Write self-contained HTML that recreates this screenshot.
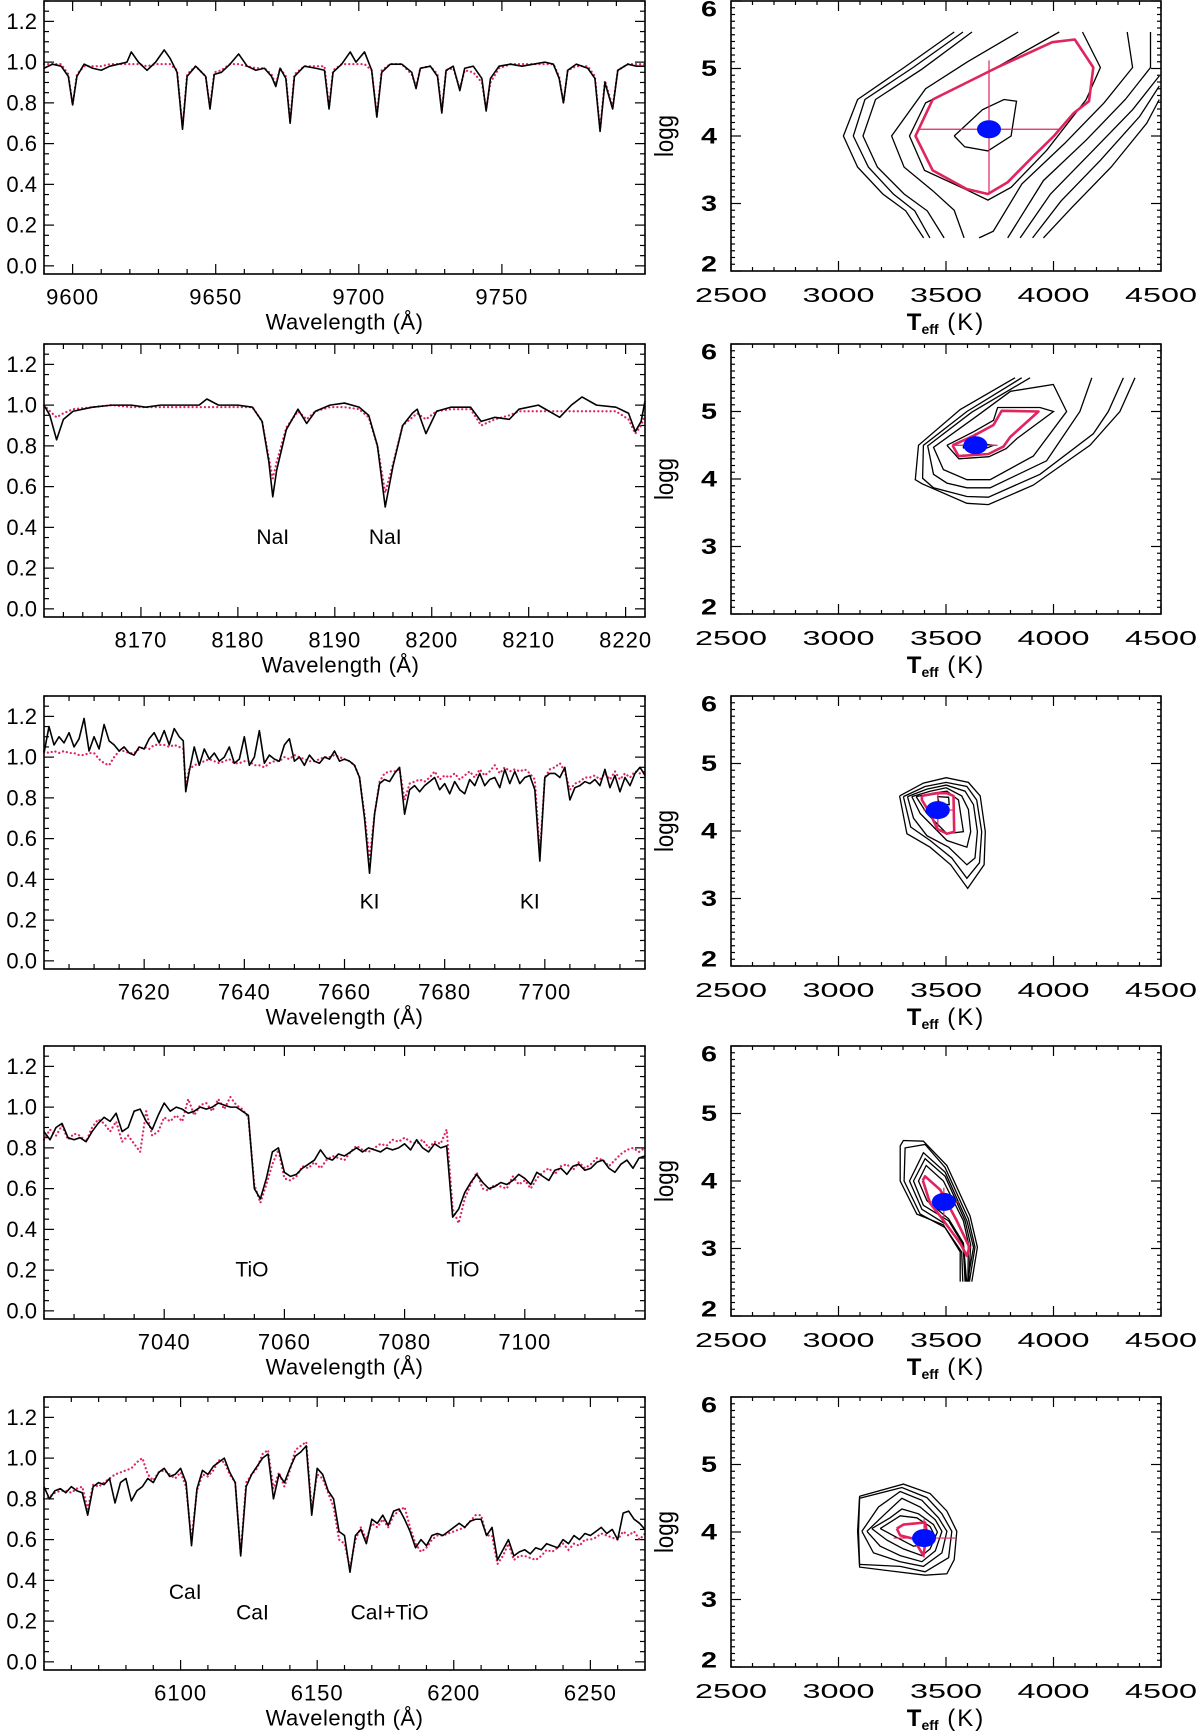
<!DOCTYPE html>
<html><head><meta charset="utf-8"><style>
html,body{margin:0;padding:0;background:#fff;}
svg{display:block;}
text{font-family:"Liberation Sans",sans-serif;fill:#000;}
</style></head><body>
<svg id="fig" width="1200" height="1732" viewBox="0 0 1200 1732" xmlns="http://www.w3.org/2000/svg"></svg>
<script>
// ---------------- Spectrum data ----------------
const wl1=[9590,9593,9596,9598.5,9600,9601.5,9604,9607,9610,9613,
9616,9619,9620.5,9623,9626,9629,9632,9634,9636.5,9638.4,
9640,9643,9646.5,9648,9649.5,9652,9655,9658,9661,9664,
9667,9669.5,9671,9672.5,9674.5,9676,9677.5,9681,9685,9688,
9689.6,9691,9694,9697,9699,9702,9704.5,9706.3,9708,9711,
9715,9718.5,9720,9721.5,9725,9727.5,9729,9730.5,9733,9735.3,
9737,9740,9743,9744.5,9746,9749,9753,9757,9761,9765,
9768,9770,9771.5,9773,9776,9780,9782.5,9784.3,9786,9788.7,
9790.5,9794,9797,9800];
const obs1=[.97,.99,.98,.93,.79,.93,.99,.97,.96,.98,
.99,1.0,1.05,1.0,.96,1.0,1.06,1.02,.95,.67,
.93,.98,.93,.77,.94,.95,.99,1.04,.98,.96,
.97,.93,.88,.97,.92,.70,.93,.98,.97,.96,
.77,.95,.99,1.05,1.0,1.05,.96,.73,.95,.99,
.99,.95,.87,.97,.98,.93,.75,.96,.98,.86,
.97,.98,.92,.76,.92,.98,.99,.98,.99,1.0,
.99,.92,.80,.96,.99,.97,.92,.66,.90,.77,
.96,.99,.98,.98];
const mod1=[.99,.99,.99,.94,.79,.94,.98,.98,.98,.99,
.99,.99,.99,.99,.98,.99,.99,.99,.96,.68,
.94,.98,.93,.78,.95,.96,.99,.99,.98,.97,
.97,.94,.89,.97,.93,.71,.94,.98,.98,.98,
.78,.96,.99,.99,.99,.99,.96,.74,.96,.99,
.99,.94,.88,.97,.98,.94,.76,.96,.97,.87,
.96,.95,.90,.77,.90,.97,.99,.99,.99,.99,
.99,.93,.80,.96,.98,.98,.93,.67,.91,.78,
.96,.99,.99,.99];

const wl2=[8160,8160.6,8161.3,8162,8163,8165,8167,8169,8170.5,8172,
8174,8176,8176.8,8178,8180,8181.5,8182.5,8183.2,8183.6,8184,
8185,8186.2,8187.1,8188,8189.5,8191,8192.5,8193.5,8194.4,8195.2,
8196,8197,8198,8198.5,8199.4,8200.5,8202,8204,8205.1,8206.5,
8208,8209,8211,8213.2,8214.4,8215.5,8217,8219,8220.3,8221,
8221.6,8222];
const obs2=[1.0,.95,.83,.93,.97,.99,1.0,1.0,.99,1.0,
1.0,1.0,1.03,1.0,1.0,.99,.92,.72,.55,.68,
.88,.98,.91,.97,1.0,1.01,.99,.95,.80,.50,
.70,.90,.96,.98,.86,.97,.99,.99,.92,.94,
.93,.98,1.0,.94,1.0,1.04,1.0,.99,.96,.87,
.92,1.02];
const mod2=[1.0,.97,.94,.96,.98,.99,1.0,.99,.99,.99,
.99,.99,.99,.99,.99,.99,.92,.74,.64,.72,
.89,.97,.93,.97,.99,.99,.98,.94,.80,.57,
.71,.90,.94,.96,.93,.97,.98,.98,.90,.93,
.95,.97,.97,.97,.97,.97,.97,.97,.93,.86,
.90,.95];

const wl3=[7600,7601,7602,7603,7604,7605,7606,7607,7608,7609,
7610,7611,7612,7613,7614,7615,7616,7617,7618,7619,
7620,7621,7622,7623,7624,7625,7626,7627,7627.8,7628.3,
7629,7630,7631,7632,7633,7634,7635,7636,7637,7638,
7639,7640,7641,7642,7643,7644,7645,7646,7647,7648,
7649,7650,7651,7652,7653,7654,7655,7656,7657,7658,
7659,7660,7661,7662,7663,7664,7665,7666,7667,7668,
7669,7670,7671,7672,7673,7674,7675,7676,7677,7678,
7679,7680,7681,7682,7683,7684,7685,7686,7687,7688,
7689,7690,7691,7692,7693,7694,7695,7696,7697,7698,
7699,7700,7701,7702,7703,7704,7705,7706,7707,7708,
7709,7710,7711,7712,7713,7714,7715,7716,7717,7718,
7719,7720];
const obs3=[1.02,1.15,1.06,1.10,1.07,1.12,1.05,1.09,1.19,1.03,
1.10,1.04,1.16,1.08,1.06,1.03,1.05,1.02,1.01,1.05,
1.04,1.09,1.12,1.07,1.13,1.06,1.14,1.10,1.08,.83,
.93,1.05,.96,1.04,.99,1.02,.98,1.00,1.05,.97,
.99,1.10,.96,1.00,1.13,.97,1.01,.99,.98,1.06,
1.09,.98,1.00,.96,1.01,.98,.97,1.00,.99,1.03,
.98,.99,.98,.96,.90,.70,.43,.72,.87,.89,
.88,.92,.95,.72,.84,.86,.83,.86,.88,.90,
.84,.87,.82,.88,.84,.82,.89,.86,.92,.86,
.89,.90,.85,.94,.87,.93,.87,.90,.91,.84,
.49,.90,.92,.92,.90,.95,.79,.85,.86,.88,
.87,.89,.86,.94,.85,.91,.83,.90,.86,.92,
.95,.91];
const mod3=[1.03,1.02,1.03,1.02,1.03,1.02,1.02,1.01,1.01,1.02,
1.02,.99,.97,.96,1.0,1.03,1.03,1.02,1.02,1.04,
1.05,1.04,1.06,1.06,1.06,1.05,1.06,1.05,1.04,.86,
.94,.96,.97,.98,.99,.98,.97,.98,.99,.97,
.97,.98,.98,.96,.96,.95,.97,.98,.98,1.0,
.99,1.01,1.0,.99,.98,.98,.99,1.0,1.0,1.01,
1.0,.99,.98,.96,.90,.72,.50,.72,.88,.92,
.93,.93,.94,.79,.87,.88,.89,.88,.90,.93,
.89,.91,.90,.92,.89,.91,.93,.90,.94,.91,
.93,.96,.92,.95,.93,.94,.93,.94,.92,.89,
.53,.90,.94,.95,.97,.93,.84,.87,.88,.90,
.90,.91,.89,.92,.89,.93,.89,.92,.90,.93,
.92,.93];

const wl4Start=7020, wl4Step=1;
const obs4=[.88,.84,.90,.92,.85,.84,.85,.83,.88,.92,
.95,.93,.97,.88,.90,.98,.99,.93,.89,.96,
1.02,.98,1.0,.99,.97,.98,1.0,.99,1.0,1.02,
1.01,1.0,1.0,.98,.96,.60,.55,.65,.78,.80,
.68,.66,.67,.70,.72,.74,.79,.75,.74,.77,
.76,.78,.80,.78,.80,.79,.78,.80,.79,.80,
.82,.79,.84,.80,.78,.82,.80,.81,.46,.50,
.58,.63,.67,.63,.60,.61,.63,.62,.64,.67,
.65,.62,.68,.66,.64,.69,.70,.67,.71,.72,
.69,.70,.73,.74,.70,.68,.72,.74,.70,.75,
.76];
const mod4=[.84,.89,.86,.91,.84,.87,.86,.83,.90,.94,
.92,.88,.93,.83,.86,.82,.78,.98,.86,.88,
.95,.93,.96,.93,1.04,.96,1.01,1.02,.98,1.04,
.99,1.05,1.01,.99,.95,.62,.53,.62,.72,.79,
.65,.64,.66,.71,.70,.73,.70,.74,.76,.75,
.74,.78,.81,.79,.78,.80,.82,.81,.84,.83,
.85,.83,.82,.84,.80,.83,.82,.89,.50,.43,
.55,.62,.68,.60,.59,.62,.61,.60,.66,.62,
.64,.60,.65,.68,.70,.67,.71,.72,.69,.73,
.70,.72,.75,.74,.71,.74,.77,.79,.80,.78,
.80];

const wl5Start=6050, wl5Step=2;
const obs5=[.86,.80,.84,.85,.83,.86,.84,.83,.72,.86,
.88,.87,.90,.78,.88,.90,.79,.84,.86,.90,
.88,.93,.95,.91,.92,.95,.88,.57,.85,.94,
.92,.96,.98,1.0,.93,.88,.52,.86,.92,.96,
1.0,1.02,.80,.92,.88,.95,1.01,1.03,1.06,.72,
.95,.92,.84,.80,.64,.62,.44,.62,.65,.58,
.70,.68,.72,.67,.74,.75,.70,.64,.56,.60,
.57,.62,.63,.62,.64,.66,.68,.66,.69,.70,
.70,.62,.66,.50,.55,.60,.52,.54,.55,.53,
.56,.55,.58,.57,.56,.60,.58,.62,.60,.63,
.62,.64,.66,.63,.65,.60,.73,.74,.70,.68,
.65];
const mod5=[.80,.81,.83,.84,.84,.83,.85,.86,.75,.87,
.86,.88,.90,.92,.93,.94,.95,.98,1.0,.92,
.89,.93,.94,.92,.90,.93,.86,.60,.84,.92,
.91,.94,.99,.98,.92,.88,.53,.88,.92,.95,
1.02,1.04,.85,.93,.86,.94,1.04,1.06,1.08,.75,
.92,.90,.83,.76,.60,.58,.46,.60,.66,.60,
.68,.66,.70,.66,.72,.74,.76,.66,.58,.54,
.56,.60,.62,.62,.63,.64,.65,.66,.69,.72,
.72,.62,.62,.48,.52,.58,.50,.52,.52,.51,
.50,.52,.55,.54,.56,.58,.55,.58,.57,.60,
.60,.61,.63,.62,.61,.60,.64,.62,.64,.60,
.63];

const yTicks=[0,0.2,0.4,0.6,0.8,1.0,1.2];
const yTickLabels=["0.0","0.2","0.4","0.6","0.8","1.0","1.2"];
const xTicks1=[9600,9650,9700,9750];
const xTicks2=[8170,8180,8190,8200,8210,8220];
const xTicks3=[7620,7640,7660,7680,7700];
const xTicks4=[7040,7060,7080,7100];
const xTicks5=[6100,6150,6200,6250];

const lineLabels2=["NaI","NaI"], lineWl2=[8183.6,8195.2], lineY2=[0.35,0.35];
const lineLabels3=["KI","KI"], lineWl3=[7665,7697], lineY3=[0.29,0.29];
const lineLabels4=["TiO","TiO"], lineWl4=[7054.6,7089.7], lineY4=[0.20,0.20];
const lineLabels5=["CaI","CaI","CaI+TiO"], lineWl5=[6101.7,6126.3,6176.5], lineY5=[0.34,0.24,0.24];

// ---------------- Contour data (Teff, logg) ----------------
const teffTicks=[2500,3000,3500,4000,4500];
const loggTicks=[2,3,4,5,6];

const cont1=[
[[3538,5.54],[3305,5.015],[3089,4.54],[3023,4.0],[3089,3.54],[3206,3.14],[3313,2.89],[3396,2.49]],
[[3579,5.54],[3347,5.015],[3123,4.54],[3069,4.0],[3139,3.54],[3255,3.14],[3355,2.89],[3425,2.49]],
[[3621,5.54],[3388,4.99],[3172,4.54],[3114,4.0],[3181,3.54],[3305,3.14],[3413,2.89],[3491,2.49]],
[[3836,5.54],[3600,5.1],[3405,4.7],[3247,4.0],[3305,3.54],[3438,3.19],[3538,2.9],[3584,2.49]],
[[4027,5.54],[3720,4.99],[3405,4.49],[3330,4.0],[3400,3.49],[3604,3.19],[3695,3.05],[3803,3.24],[3969,3.79],[4152,4.54],[4218,5.015],[4135,5.54]],
[[3538,4.0],[3670,4.39],[3770,4.54],[3828,4.515],[3803,4.0],[3695,3.78],[3587,3.84],[3538,4.0]],
[[4343,5.54],[4368,5.015],[4235,4.49],[4052,3.89],[3853,3.29],[3720,2.59],[3654,2.49]],
[[4451,5.54],[4451,5.015],[4334,4.54],[4152,3.94],[3953,3.34],[3787,2.49]],
[[4492,4.89],[4368,4.39],[4185,3.79],[3986,3.14],[3845,2.49]],
[[4492,4.74],[4401,4.29],[4218,3.64],[4036,3.04],[3903,2.49]],
[[4492,4.54],[4434,4.19],[4268,3.54],[4085,2.94],[3953,2.49]]];
const red1=[[3438,4.54],[3737,5.015],[3994,5.39],[4099,5.43],[4185,5.015],[4165,4.515],[4094,4.34],[4002,4.0],[3903,3.69],[3787,3.315],[3695,3.14],[3596,3.215],[3438,3.49],[3358,4.0],[3438,4.54]];
const best1=[3700,4.1], errT1=[3371,4036], errG1=[3.14,5.12];

const cont2=[
[[3821,5.5],[3566,5.03],[3372,4.5],[3357,3.99],[3388,3.93],[3597,3.64],[3697,3.62],[3906,3.91],[4170,4.5],[4309,5.0],[4379,5.5]],
[[3852,5.5],[3597,5.0],[3395,4.5],[3391,4.01],[3442,3.87],[3597,3.74],[3697,3.73],[3937,4.07],[4185,4.67],[4255,5.0],[4325,5.5]],
[[3891,5.5],[3620,4.99],[3415,4.49],[3442,4.07],[3504,3.94],[3597,3.87],[3705,3.87],[3968,4.27],[4123,5.0],[4178,5.5]],
[[3643,4.93],[3442,4.47],[3488,4.14],[3597,3.99],[3705,3.99],[3906,4.34],[4061,5.0],[3999,5.4],[3800,5.3],[3643,4.93]],
[[3504,4.5],[3628,4.7],[3721,4.87],[3740,5.06],[3937,5.06],[4000,5.0],[3830,4.6],[3780,4.45],[3700,4.33],[3560,4.3],[3504,4.5]],
[[3581,4.51],[3674,4.52],[3721,4.5],[3674,4.44],[3581,4.46],[3581,4.51]]];
const red2=[[3530,4.5],[3628,4.64],[3721,4.8],[3759,5.01],[3930,5.0],[3798,4.62],[3767,4.48],[3697,4.37],[3558,4.34],[3530,4.5]];
const best2=[3637,4.5], errT2=[3540,3740], errG2=[4.35,4.68];

const cont3=[
[[3284,4.52],[3395,4.71],[3501,4.79],[3604,4.72],[3659,4.52],[3683,3.99],[3677,3.5],[3601,3.15],[3522,3.5],[3426,3.76],[3318,3.96],[3284,4.52]],
[[3302,4.51],[3403,4.66],[3501,4.72],[3597,4.66],[3643,4.46],[3666,3.99],[3656,3.53],[3597,3.3],[3527,3.6],[3426,3.86],[3336,4.06],[3302,4.51]],
[[3321,4.51],[3411,4.62],[3501,4.68],[3589,4.59],[3628,4.39],[3646,3.99],[3635,3.6],[3597,3.5],[3512,3.76],[3411,3.93],[3349,4.19],[3321,4.51]],
[[3341,4.51],[3426,4.59],[3501,4.64],[3573,4.52],[3604,4.32],[3615,3.99],[3597,3.76],[3504,3.86],[3380,4.26],[3341,4.51]],
[[3361,4.51],[3442,4.56],[3504,4.59],[3558,4.46],[3581,3.99],[3504,3.96],[3411,4.26],[3361,4.51]],
[[3460,4.51],[3512,4.5],[3515,4.39],[3470,4.4],[3460,4.51]]];
const red3=[[3388,4.52],[3457,4.56],[3504,4.56],[3535,4.52],[3538,3.99],[3504,3.96],[3460,4.03],[3426,4.26],[3388,4.46],[3388,4.52]];
const best3=[3462,4.31], errT3=[3395,3530], errG3=[4.05,4.57];

const cont4=[
[[3566,2.51],[3566,2.95],[3488,3.35],[3364,3.51],[3287,4.0],[3287,4.52],[3302,4.6],[3395,4.59],[3504,4.23],[3612,3.48],[3646,3.02],[3620,2.51]],
[[3578,2.51],[3573,2.95],[3496,3.31],[3380,3.51],[3305,4.0],[3310,4.49],[3403,4.54],[3496,4.2],[3604,3.44],[3635,3.02],[3609,2.51]],
[[3589,2.51],[3581,2.99],[3504,3.35],[3388,3.58],[3330,4.0],[3395,4.42],[3496,4.13],[3597,3.41],[3628,3.02],[3600,2.51]],
[[3592,2.51],[3581,3.05],[3512,3.41],[3395,3.64],[3349,4.0],[3403,4.33],[3496,4.07],[3589,3.41],[3615,3.05],[3605,2.51]],
[[3596,2.51],[3581,3.08],[3512,3.44],[3411,3.71],[3372,4.0],[3408,4.23],[3488,4.0],[3581,3.41],[3604,3.08],[3602,2.51]]];
const red4=[[3392,4.01],[3403,4.07],[3473,3.87],[3550,3.41],[3609,3.02],[3597,2.89],[3566,3.08],[3473,3.48],[3426,3.67],[3392,4.01]];
const best4=[3490,3.69], errT4=[3420,3560], errG4=[3.45,3.9];

const cont5=[
[[3098,4.53],[3302,4.71],[3426,4.57],[3504,4.31],[3550,4.01],[3538,3.59],[3504,3.38],[3403,3.36],[3098,3.48],[3089,4.01],[3098,4.53]],
[[3098,4.5],[3295,4.66],[3411,4.51],[3481,4.27],[3527,4.01],[3512,3.62],[3403,3.41],[3287,3.49],[3098,3.52],[3093,4.01],[3098,4.5]],
[[3109,4.01],[3186,4.37],[3287,4.6],[3388,4.47],[3465,4.21],[3504,4.01],[3481,3.69],[3395,3.49],[3287,3.56],[3163,3.69],[3109,4.01]],
[[3132,4.01],[3217,4.27],[3295,4.5],[3380,4.37],[3450,4.18],[3481,4.01],[3450,3.72],[3388,3.56],[3287,3.65],[3194,3.79],[3132,4.01]],
[[3155,4.05],[3240,4.21],[3295,4.34],[3372,4.27],[3442,4.11],[3460,4.0],[3426,3.75],[3388,3.65],[3302,3.75],[3225,3.88],[3155,4.05]],
[[3194,4.05],[3287,4.24],[3364,4.21],[3426,4.08],[3442,3.98],[3411,3.82],[3349,3.79],[3271,3.92],[3194,4.05]]];
const red5=[[3271,4.05],[3302,4.11],[3403,4.14],[3411,3.99],[3395,3.65],[3349,3.9],[3287,3.95],[3271,4.05]];
const best5=[3398,3.91], errT5=[3256,3547], errG5=[3.62,4.19];

// ---------------- Drawing ----------------
const NS="http://www.w3.org/2000/svg";
const svg=document.getElementById('fig');
const RED="#e0245e";
function mk(tag,parent){const e=document.createElementNS(NS,tag);parent.appendChild(e);return e;}
function setA(e,o){for(const k in o)e.setAttribute(k,o[k]);}
function grid(start,step,n){const a=[];for(let i=0;i<n;i++)a.push(start+i*step);return a;}
const wl4=grid(wl4Start,wl4Step,obs4.length);
const wl5=grid(wl5Start,wl5Step,obs5.length);

const tops=[1,344,696,1046,1397];
const LX0=44,LX1=645,LH=273,YMIN=-0.04,YMAX=1.3;
const RX0=731,RX1=1161,RH=270;

const spec=[
 {wl:wl1,obs:obs1,mod:mod1,xmin:9590,xmax:9800,ticks:xTicks1,minor:10,lab:[],lw:[],ly:[]},
 {wl:wl2,obs:obs2,mod:mod2,xmin:8160,xmax:8222,ticks:xTicks2,minor:2,lab:lineLabels2,lw:lineWl2,ly:lineY2},
 {wl:wl3,obs:obs3,mod:mod3,xmin:7600,xmax:7720,ticks:xTicks3,minor:5,lab:lineLabels3,lw:lineWl3,ly:lineY3},
 {wl:wl4,obs:obs4,mod:mod4,xmin:7020,xmax:7120,ticks:xTicks4,minor:5,lab:lineLabels4,lw:lineWl4,ly:lineY4},
 {wl:wl5,obs:obs5,mod:mod5,xmin:6050,xmax:6270,ticks:xTicks5,minor:10,lab:lineLabels5,lw:lineWl5,ly:lineY5}];
const cont=[
 {c:cont1,r:red1,b:best1,et:errT1,eg:errG1},
 {c:cont2,r:red2,b:best2,et:errT2,eg:errG2},
 {c:cont3,r:red3,b:best3,et:errT3,eg:errG3},
 {c:cont4,r:red4,b:best4,et:errT4,eg:errG4},
 {c:cont5,r:red5,b:best5,et:errT5,eg:errG5}];

function line(parent,x1,y1,x2,y2,w,col){const l=mk('line',parent);setA(l,{x1:x1,y1:y1,x2:x2,y2:y2,stroke:col||'#000','stroke-width':w||1});return l;}

spec.forEach((p,i)=>{
  const top=tops[i],bot=top+LH;
  const xs=v=>LX0+(v-p.xmin)/(p.xmax-p.xmin)*(LX1-LX0);
  const ys=v=>top+(YMAX-v)/(YMAX-YMIN)*LH;
  const g=mk('g',svg);
  
  
  const tg=mk('g',g);
  
  
  for(let v=0;v<=1.3001;v+=0.05){
    const y=ys(v);const maj=Math.abs(v*5-Math.round(v*5))<1e-6;const L=maj?10:5;
    line(tg,LX0,y,LX0+L,y,1.2);line(tg,LX1,y,LX1-L,y,1.2);
  }
  for(let v=Math.ceil(p.xmin/p.minor)*p.minor;v<=p.xmax;v+=p.minor){
    const x=xs(v);const maj=p.ticks.indexOf(v)>=0;const L=maj?10:5;
    line(tg,x,bot,x,bot-L,1.2);line(tg,x,top,x,top+L,1.2);
  }
  yTicks.forEach((v,k)=>{
    const t=mk('text',g);setA(t,{x:37,y:ys(v),'text-anchor':'end','dominant-baseline':'central','font-size':22});
    t.textContent=yTickLabels[k];
    
    
  });
  p.ticks.forEach(v=>{
    const t=mk('text',g);setA(t,{x:xs(v),y:bot+23,'text-anchor':'middle','dominant-baseline':'central','font-size':22,'letter-spacing':'1'});
    t.textContent=String(v);
    
    
  });
  const ti=mk('text',g);setA(ti,{x:(LX0+LX1)/2+(i==1?-4:0),y:bot+48,'text-anchor':'middle','dominant-baseline':'central','font-size':22,'letter-spacing':'0.5'});
  ti.textContent='Wavelength (Å)';
  
  
  let dm='';p.wl.forEach((w,k)=>{if(k<p.mod.length)dm+=(k?'L':'M')+xs(w).toFixed(2)+','+ys(p.mod[k]).toFixed(2);});
  const pm=mk('path',g);setA(pm,{d:dm,fill:'none',stroke:RED,'stroke-width':2.2,'stroke-dasharray':'0.1 4','stroke-linecap':'round'});
  
  
  let d='';p.wl.forEach((w,k)=>{if(k<p.obs.length)d+=(k?'L':'M')+xs(w).toFixed(2)+','+ys(p.obs[k]).toFixed(2);});
  const po=mk('path',g);setA(po,{d:d,fill:'none',stroke:'#000','stroke-width':1.6,'stroke-linejoin':'round'});
  
  
  p.lab.forEach((s,k)=>{
    const t=mk('text',g);setA(t,{x:xs(p.lw[k]),y:ys(p.ly[k]),'text-anchor':'middle','dominant-baseline':'central','font-size':21});
    t.textContent=s;
    
    
  });
  const fr=mk('rect',g);setA(fr,{x:LX0,y:top,width:LX1-LX0,height:LH,fill:'none',stroke:'#000','stroke-width':1.6});
  
  
});

cont.forEach((p,i)=>{
  const top=tops[i],bot=top+RH;
  const xs=t=>RX0+(t-2500)/2000*(RX1-RX0);
  const ys=g=>top+(6-g)/4*RH;
  const g=mk('g',svg);
  
  
  const tg=mk('g',g);
  
  
  for(let v=2;v<=6.0001;v+=0.1){const y=ys(v);const maj=Math.abs(v-Math.round(v))<1e-6;const L=maj?10:4;
    line(tg,RX0,y,RX0+L,y,1.2);line(tg,RX1,y,RX1-L,y,1.2);}
  for(let v=2500;v<=4500;v+=100){const x=xs(v);const maj=v%500==0;const L=maj?10:4;
    line(tg,x,bot,x,bot-L,1.2);line(tg,x,top,x,top+L,1.2);}
  loggTicks.forEach(v=>{
    const yy=Math.min(Math.max(ys(v),top+8),bot-7);
    const t=mk('text',g);setA(t,{x:709,y:yy,'text-anchor':'middle','dominant-baseline':'central','font-size':22,'font-weight':'bold',textLength:16,lengthAdjust:'spacingAndGlyphs'});
    t.textContent=String(v);
    
    
  });
  teffTicks.forEach(v=>{
    const t=mk('text',g);setA(t,{x:xs(v),y:bot+25,'text-anchor':'middle','dominant-baseline':'central','font-size':20,textLength:72,lengthAdjust:'spacingAndGlyphs'});
    t.textContent=String(v);
    
    
  });
  const tt=mk('text',g);setA(tt,{x:946,y:bot+59,'text-anchor':'middle','font-size':24,'font-weight':'bold'});
  const s1=mk('tspan',tt);s1.textContent='T';
  const s2=mk('tspan',tt);setA(s2,{'font-size':14,dy:4});s2.textContent='eff';
  const s3=mk('tspan',tt);setA(s3,{dy:-4,'font-weight':'normal','letter-spacing':'2'});s3.textContent='  (K)';
  
  
  const yt=mk('text',g);setA(yt,{x:0,y:0,transform:'translate(673,'+(top+RH/2)+') rotate(-90)','text-anchor':'middle','font-size':26,textLength:42,lengthAdjust:'spacingAndGlyphs'});
  yt.textContent='logg';
  
  
  p.c.forEach(c=>{
    const pl=mk('polyline',g);setA(pl,{points:c.map(q=>xs(q[0]).toFixed(1)+','+ys(q[1]).toFixed(1)).join(' '),fill:'none',stroke:'#000','stroke-width':1.3});
    
    
  });
  const rl=mk('polyline',g);setA(rl,{points:p.r.map(q=>xs(q[0]).toFixed(1)+','+ys(q[1]).toFixed(1)).join(' '),fill:'none',stroke:RED,'stroke-width':2.6,'stroke-linejoin':'round'});
  
  
  const eh=line(g,xs(p.et[0]),ys(p.b[1]),xs(p.et[1]),ys(p.b[1]),1.2,RED);
  
  
  const ev=line(g,xs(p.b[0]),ys(p.eg[0]),xs(p.b[0]),ys(p.eg[1]),1.2,RED);
  
  
  const dot=mk('ellipse',g);setA(dot,{cx:xs(p.b[0]),cy:ys(p.b[1]),rx:12,ry:9,fill:'#0010ff'});
  
  
  const fr=mk('rect',g);setA(fr,{x:RX0,y:top,width:RX1-RX0,height:RH,fill:'none',stroke:'#000','stroke-width':1.6});
  
  
});
</script>
</body></html>
